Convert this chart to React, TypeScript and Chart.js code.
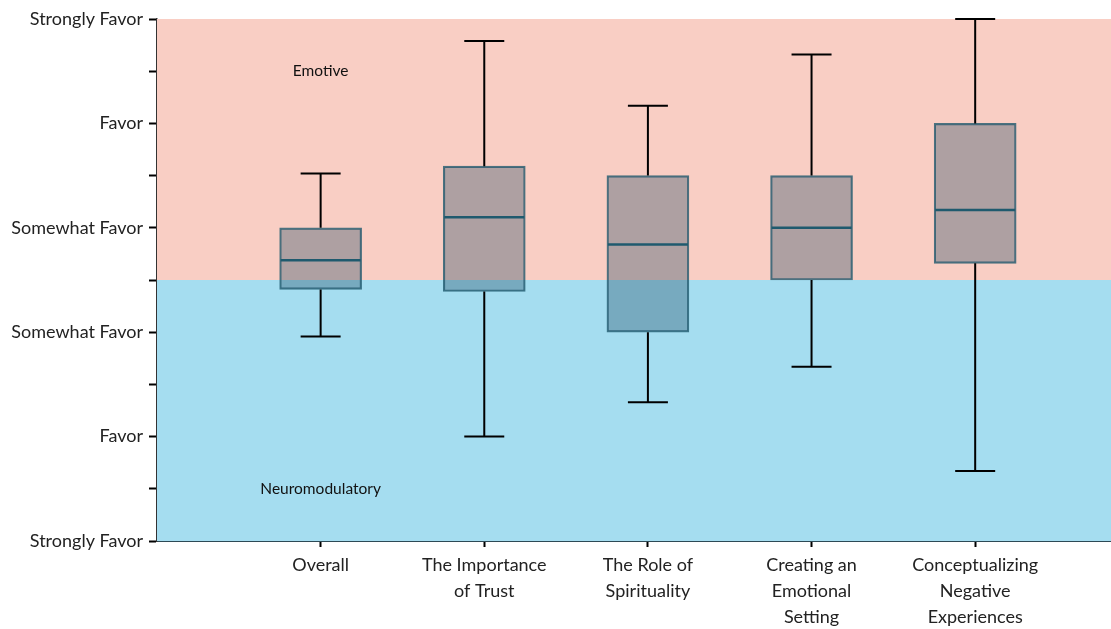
import React, { useEffect, useRef } from "react";
import { Chart, registerables } from "chart.js";

Chart.register(...registerables);

const categories: string[][] = [
  ["Overall"],
  ["The Importance", "of Trust"],
  ["The Role of", "Spirituality"],
  ["Creating an", "Emotional", "Setting"],
  ["Conceptualizing", "Negative", "Experiences"],
];
const positions = [1, 2, 3, 4, 5];
const whiskerMin = [1.96, 1.0, 1.33, 1.67, 0.67];
const q1 = [2.41, 2.39, 2.0, 2.5, 2.66];
const median = [2.69, 3.1, 2.84, 3.0, 3.17];
const q3 = [3.0, 3.59, 3.5, 3.5, 4.0];
const whiskerMax = [3.52, 4.79, 4.17, 4.66, 5.0];

const yTickLabels: Record<string, string> = {
  "0": "Strongly Favor",
  "1": "Favor",
  "2": "Somewhat Favor",
  "3": "Somewhat Favor",
  "4": "Favor",
  "5": "Strongly Favor",
};
const regionSplit = 2.5;
const regionLabels = [
  { text: "Emotive", x: 1, y: 4.5 },
  { text: "Neuromodulatory", x: 1, y: 0.5 },
];

const FONT = "Lato";

export default function App() {
  const ref = useRef<HTMLCanvasElement>(null);
  useEffect(() => {
    if (!ref.current) return;
    const bgPlugin = {
      id: "bgRegions",
      beforeDatasetsDraw(chart: any) {
        const { ctx, chartArea, scales } = chart;
        const ySplit = scales.y.getPixelForValue(regionSplit);
        ctx.save();
        ctx.fillStyle = "#f9cec4";
        ctx.fillRect(chartArea.left, chartArea.top, chartArea.right - chartArea.left, ySplit - chartArea.top);
        ctx.fillStyle = "#a5ddf0";
        ctx.fillRect(chartArea.left, ySplit, chartArea.right - chartArea.left, chartArea.bottom - ySplit);
        ctx.fillStyle = "#111";
        ctx.font = `15.5px ${FONT}`;
        ctx.textAlign = "center";
        ctx.textBaseline = "middle";
        regionLabels.forEach((r) => {
          ctx.fillText(r.text, scales.x.getPixelForValue(r.x), scales.y.getPixelForValue(r.y));
        });
        ctx.restore();
      },
    };
    const boxPlugin = {
      id: "boxExtras",
      afterDatasetsDraw(chart: any) {
        const { ctx, scales } = chart;
        const xs = scales.x;
        const ys = scales.y;
        ctx.save();
        positions.forEach((p, i) => {
          const cx = xs.getPixelForValue(p);
          ctx.strokeStyle = "#000";
          ctx.lineWidth = 2;
          ctx.beginPath();
          ctx.moveTo(cx, ys.getPixelForValue(q3[i]));
          ctx.lineTo(cx, ys.getPixelForValue(whiskerMax[i]));
          ctx.moveTo(cx, ys.getPixelForValue(q1[i]));
          ctx.lineTo(cx, ys.getPixelForValue(whiskerMin[i]));
          const capHalf = 20;
          const yMax = ys.getPixelForValue(whiskerMax[i]);
          const yMin = ys.getPixelForValue(whiskerMin[i]);
          ctx.moveTo(cx - capHalf, yMax);
          ctx.lineTo(cx + capHalf, yMax);
          ctx.moveTo(cx - capHalf, yMin);
          ctx.lineTo(cx + capHalf, yMin);
          ctx.stroke();
          ctx.strokeStyle = "#1f5a6e";
          ctx.lineWidth = 2.5;
          ctx.beginPath();
          const ym = ys.getPixelForValue(median[i]);
          ctx.moveTo(cx - 40, ym);
          ctx.lineTo(cx + 40, ym);
          ctx.stroke();
        });
        ctx.restore();
      },
    };

    const chart = new Chart(ref.current, {
      type: "bar",
      data: {
        datasets: [
          {
            data: positions.map((p, i) => ({ x: p, y: [q1[i], q3[i]] })) as any,
            backgroundColor: "rgba(34,75,100,0.35)",
            borderColor: "rgba(31,90,110,0.8)",
            borderWidth: 1.5,
            borderSkipped: false,
            barThickness: 82,
          },
        ],
      },
      options: {
        animation: false,
        responsive: true,
        maintainAspectRatio: false,
        layout: { padding: { top: 19, right: 0, left: 0, bottom: 0 } },
        plugins: { legend: { display: false }, tooltip: { enabled: false } },
        scales: {
          x: {
            type: "linear",
            min: 0,
            max: 5.83,
            offset: false,
            afterBuildTicks: (scale: any) => {
              scale.ticks = positions.map((v) => ({ value: v }));
            },
            afterFit: (scale: any) => {
              scale.height = 88;
            },
            ticks: {
              color: "#222",
              font: { family: FONT, size: 18, lineHeight: 1.45 },
              padding: 5,
              maxRotation: 0,
              autoSkip: false,
              callback: (v: any) => {
                const idx = positions.indexOf(Number(v));
                return idx >= 0 ? categories[idx] : "";
              },
            },
            grid: { offset: false, drawOnChartArea: false, color: "#000", tickLength: 6, tickWidth: 2 },
            border: { color: "#2d4a55", width: 2 },
          },
          y: {
            min: 0,
            max: 5,
            afterBuildTicks: (scale: any) => {
              const t = [];
              for (let v = 0; v <= 10; v++) t.push({ value: v / 2 });
              scale.ticks = t;
            },
            afterFit: (scale: any) => {
              scale.width = 157;
            },
            ticks: {
              color: "#222",
              font: { family: FONT, size: 18 },
              padding: 6,
              autoSkip: false,
              callback: (v: any) => yTickLabels[String(v)] ?? "",
            },
            grid: { drawOnChartArea: false, color: "#000", tickLength: 8, tickWidth: 2 },
            border: { color: "#333", width: 1.5 },
          },
        },
      },
      plugins: [bgPlugin, boxPlugin],
    });
    return () => chart.destroy();
  }, []);
  return (
    <div style={{ position: "absolute", left: 0, top: 0, width: 1111, height: 629 }}>
      <canvas ref={ref} />
    </div>
  );
}
